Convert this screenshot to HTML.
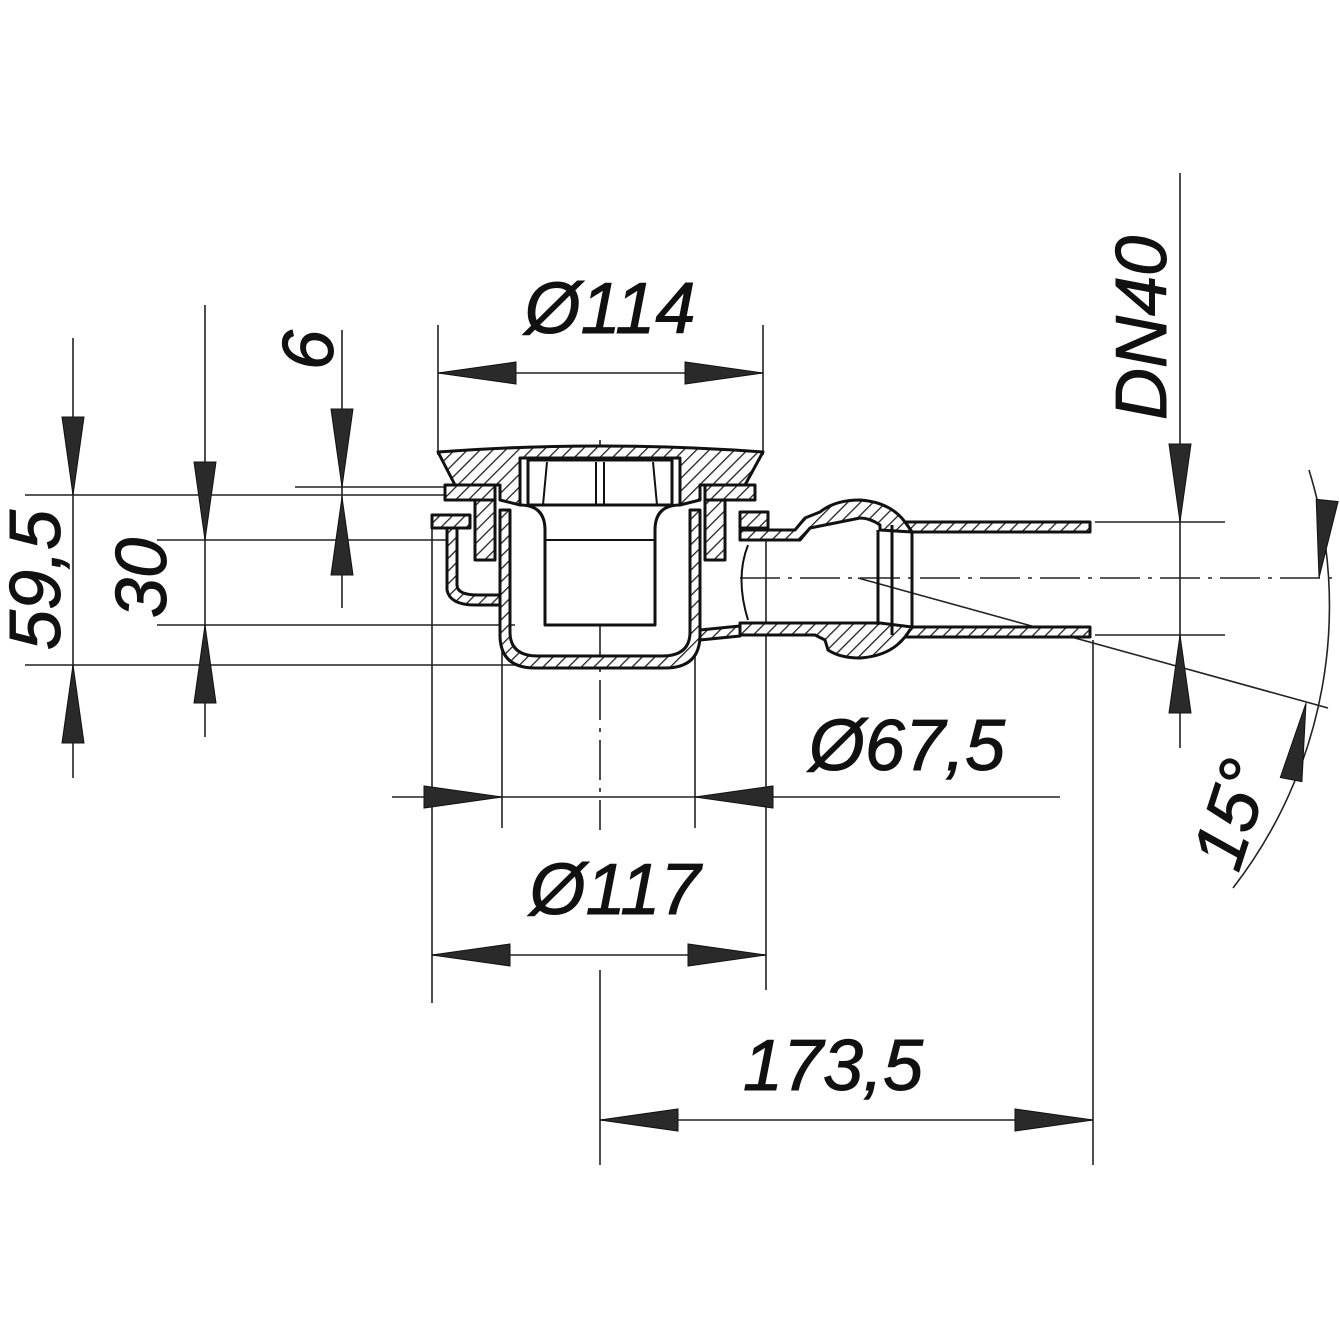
<!DOCTYPE html>
<html><head><meta charset="utf-8"><style>html,body{margin:0;padding:0;background:#fff}svg{display:block}</style></head>
<body>
<svg width="1340" height="1340" viewBox="0 0 1340 1340" xmlns="http://www.w3.org/2000/svg">
<defs>
<pattern id="h" width="9" height="9" patternUnits="userSpaceOnUse" patternTransform="rotate(45)">
<rect width="9" height="9" fill="#fff"/><line x1="0" y1="0" x2="0" y2="9" stroke="#222" stroke-width="2.6"/></pattern>
<g id="a"><polygon points="0,0 -78,-11 -78,11" fill="#2a2a2a" stroke="#111" stroke-width="1"/></g>
</defs>
<g stroke="#222" stroke-width="1.6" fill="none">
<line x1="73" y1="338" x2="73" y2="778"/>
<line x1="205" y1="305" x2="205" y2="737"/>
<line x1="342" y1="330" x2="342" y2="608"/>
<line x1="25" y1="495" x2="450" y2="495"/>
<line x1="295" y1="487" x2="450" y2="487"/>
<line x1="157" y1="540" x2="450" y2="540"/>
<line x1="157" y1="625" x2="515" y2="625"/>
<line x1="25" y1="665" x2="515" y2="665"/>
<line x1="438" y1="325" x2="438" y2="455"/>
<line x1="763" y1="325" x2="763" y2="455"/>
<line x1="438" y1="373" x2="763" y2="373"/>
<line x1="432" y1="520" x2="432" y2="1003"/>
<line x1="766" y1="530" x2="766" y2="990"/>
<line x1="432" y1="955" x2="766" y2="955"/>
<line x1="502" y1="630" x2="502" y2="828"/>
<line x1="695" y1="630" x2="695" y2="828"/>
<line x1="392" y1="797" x2="1060" y2="797"/>
<line x1="600" y1="970" x2="600" y2="1165"/>
<line x1="1093" y1="640" x2="1093" y2="1165"/>
<line x1="600" y1="1120" x2="1093" y2="1120"/>
<line x1="1180" y1="173" x2="1180" y2="748"/>
<line x1="1095" y1="522" x2="1225" y2="522"/>
<line x1="1095" y1="635" x2="1225" y2="635"/>
<line x1="740" y1="578" x2="1340" y2="578" stroke-dasharray="40,8,4,8"/>
<line x1="600" y1="440" x2="600" y2="830" stroke-dasharray="40,8,4,8"/>
<line x1="858" y1="578" x2="1328" y2="708"/>
<path d="M1309,470 A461,461 0 0 1 1233,888"/>
</g>
<g>
<use href="#a" transform="translate(73,495) rotate(90)"/>
<use href="#a" transform="translate(73,665) rotate(-90)"/>
<use href="#a" transform="translate(205,540) rotate(90)"/>
<use href="#a" transform="translate(205,625) rotate(-90)"/>
<use href="#a" transform="translate(342,487) rotate(90)"/>
<use href="#a" transform="translate(342,497) rotate(-90)"/>
<use href="#a" transform="translate(438,373) rotate(180)"/>
<use href="#a" transform="translate(763,373)"/>
<use href="#a" transform="translate(432,955) rotate(180)"/>
<use href="#a" transform="translate(766,955)"/>
<use href="#a" transform="translate(502,797)"/>
<use href="#a" transform="translate(695,797) rotate(180)"/>
<use href="#a" transform="translate(600,1120) rotate(180)"/>
<use href="#a" transform="translate(1093,1120)"/>
<use href="#a" transform="translate(1180,522) rotate(90)"/>
<use href="#a" transform="translate(1180,635) rotate(-90)"/>
<use href="#a" transform="translate(1319,578) rotate(96)"/>
<use href="#a" transform="translate(1306,703) rotate(-79)"/>
</g>
<g stroke="#111" stroke-width="3" stroke-linejoin="round">
<!-- right pipe top -->
<path d="M905,522 L1090,522 L1090,532 L912,532 Z" fill="url(#h)"/>
<path d="M740,530 L795,530 L805,518 L820,512 Q835,500 860,500 Q890,502 905,522 L912,532 L880,530 L880,525 Q870,518 860,518 L810,528 L800,540 L740,540 Z" fill="url(#h)"/>
<!-- right pipe bottom -->
<path d="M905,637 L1090,637 L1090,627 L912,627 Z" fill="url(#h)"/>
<path d="M740,623 L880,623 L912,627 L905,637 Q890,656 860,658 Q840,658 828,650 L825,640 L815,635 L740,635 Z" fill="url(#h)"/>
<line x1="878" y1="530" x2="878" y2="625"/>
<line x1="892" y1="525" x2="892" y2="635"/>
<line x1="912" y1="532" x2="912" y2="627"/>
<path d="M748,545 Q735,578 748,620" fill="none" stroke-width="2"/>
<!-- bowl -->
<path d="M500,510 L500,635 Q500,668 535,668 L665,668 Q700,668 700,635 L700,510 L690,510 L690,632 Q690,656 662,656 L538,656 Q510,656 510,632 L510,510 Z" fill="url(#h)"/>
<path d="M700,630 L740,626 L740,636 L700,640 Z" fill="url(#h)"/>
<path d="M447,520 L447,590 Q450,605 475,605 L500,605 L500,595 L478,595 Q457,595 457,585 L457,520 Z" fill="url(#h)"/>
<path d="M432,515 L470,515 L470,528 L432,528 Z" fill="url(#h)"/>
<path d="M445,485 L495,485 L495,500 L445,500 Z" fill="url(#h)"/>
<path d="M475,500 L495,500 L495,560 L475,560 Z" fill="url(#h)"/>
<path d="M705,485 L755,485 L755,500 L705,500 Z" fill="url(#h)"/>
<path d="M705,500 L725,500 L725,560 L705,560 Z" fill="url(#h)"/>
<path d="M740,512 L768,512 L768,528 L740,528 Z" fill="url(#h)"/>
<path d="M438,452 Q600,440 763,452 L745,485 L700,485 L700,500 L680,505 L680,458 L520,458 L520,505 L500,500 L500,485 L455,485 Z" fill="url(#h)"/>
<path d="M520,505 Q545,505 545,530 L545,625 L655,625 L655,530 Q655,505 680,505" fill="#fff"/>
<line x1="545" y1="540" x2="655" y2="540" stroke-width="2"/>
<path d="M528,460 L672,460 L672,505 L528,505 Z" fill="#fff"/>
<line x1="547" y1="462" x2="543" y2="505" stroke-width="2"/>
<line x1="653" y1="462" x2="657" y2="505" stroke-width="2"/>
<line x1="596" y1="462" x2="596" y2="505" stroke-width="2"/>
<line x1="604" y1="462" x2="604" y2="505" stroke-width="2"/>
</g>
<g font-family="Liberation Sans, sans-serif" font-style="italic" font-size="72" fill="#111" stroke="#111" stroke-width="1">
<text x="610" y="333" text-anchor="middle">Ø114</text>
<text x="615" y="914" text-anchor="middle">Ø117</text>
<text x="907" y="770" text-anchor="middle">Ø67,5</text>
<text x="833" y="1090" text-anchor="middle">173,5</text>
<text transform="translate(60,580) rotate(-90)" text-anchor="middle">59,5</text>
<text transform="translate(166,578) rotate(-90)" text-anchor="middle">30</text>
<text transform="translate(333,350) rotate(-90)" text-anchor="middle">6</text>
<text transform="translate(1166,328) rotate(-90)" text-anchor="middle">DN40</text>
<text transform="translate(1255,822) rotate(-72)" text-anchor="middle">15°</text>
</g>
</svg>
</body></html>
